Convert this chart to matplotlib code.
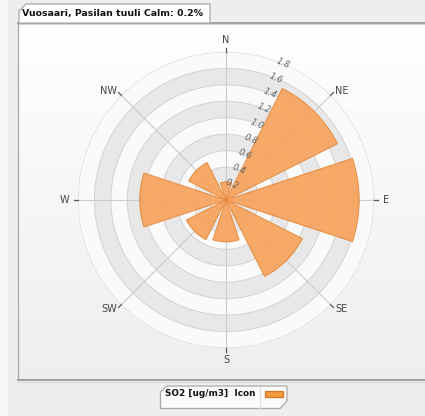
import numpy as np
import matplotlib
matplotlib.use("Agg")
import matplotlib.pyplot as plt
from matplotlib.patches import Polygon, Rectangle

# Wind rose data: mean SO2 concentration per wind direction sector
directions = ["N", "NE", "E", "SE", "S", "SW", "W", "NW"]
so2_values = [0.22, 1.52, 1.62, 1.04, 0.51, 0.54, 1.05, 0.51]
radial_ticks = [0.2, 0.4, 0.6, 0.8, 1.0, 1.2, 1.4, 1.6, 1.8]
radial_labels = ["0.2", "0.4", "0.6", "0.8", "1.0", "1.2", "1.4", "1.6", "1.8"]
title_text = "Vuosaari, Pasilan tuuli Calm: 0.2%"
legend_text = "SO2 [ug/m3]  Icon"

W, H = 425, 416
fig = plt.figure(figsize=(W / 100, H / 100), dpi=100)
fig.patch.set_facecolor("#eeeeee")

# ---- background decoration in pixel coordinates ----
bg = fig.add_axes([0, 0, 1, 1])
bg.set_xlim(0, W)
bg.set_ylim(H, 0)
bg.axis("off")

bg.add_patch(Rectangle((0, 0), 8, H, color="#f6f6f6", lw=0))

# panel with a soft vertical gradient
n = 200
top_c = np.array([1.0, 1.0, 1.0])
bot_c = np.array([0.935, 0.935, 0.935])
grad = np.linspace(0, 1, n)[:, None, None] * (bot_c - top_c) + top_c
grad = np.repeat(grad, 2, axis=1)
bg.imshow(grad, extent=(18.5, W + 5, 380, 22.5), aspect="auto", origin="upper",
          interpolation="bilinear", zorder=1)
bg.plot([18.5, W + 5], [22.5, 22.5], color="#9a9a9a", lw=1.3, zorder=3)
bg.plot([18.5, W + 5], [24.0, 24.0], color="#d4d4d4", lw=0.8, zorder=3)
bg.plot([18.5, 18.5], [22.5, 380], color="#a8a8a8", lw=0.9, zorder=3)
bg.plot([18.5, W + 5], [380, 380], color="#9a9a9a", lw=1.3, zorder=3)
bg.plot([18.5, W + 5], [381.5, 381.5], color="#d8d8d8", lw=0.8, zorder=3)

# title tab
tab = Polygon([(19, 22.5), (19, 11), (26, 4), (210, 4), (210, 22.5)],
              closed=False, facecolor="white", edgecolor="#a8a8a8", lw=0.9, zorder=4)
bg.add_patch(tab)
bg.text(22.5, 13.8, title_text, ha="left", va="center", fontsize=6.75,
        fontweight="bold", color="#111111", zorder=5)

# legend box
leg = Polygon([(160.5, 392), (167, 386), (287, 386), (287, 401), (280, 408.5), (160.5, 408.5)],
              closed=True, facecolor="#fbfbfb", edgecolor="#a8a8a8", lw=0.9, zorder=4)
bg.add_patch(leg)
bg.plot([260, 260], [386.5, 408], color="#dddddd", lw=0.8, zorder=5)
bg.add_patch(Rectangle((265.5, 390.5), 17.5, 6, facecolor="#f49a3e",
                       edgecolor="#d27a25", lw=0.9, zorder=5))
bg.text(165.5, 394, legend_text, ha="left", va="center", fontsize=6.4,
        fontweight="bold", color="#111111", zorder=5)

# ---- polar wind rose ----
cx, cy, R = 226, 200, 148
rect = [(cx - R) / W, (H - cy - R) / H, 2 * R / W, 2 * R / H]
ax = fig.add_axes(rect, projection="polar")
ax.set_theta_zero_location("N")
ax.set_theta_direction(-1)
rmax = radial_ticks[-1]
ax.set_ylim(0, rmax)
ax.set_facecolor("#fafafa")
ax.grid(False)
ax.set_xticks([])
ax.set_yticks([])
ax.spines["polar"].set_visible(False)

full = np.linspace(0, 2 * np.pi, 361)
# alternating plot bands
for lo in radial_ticks[0::2][:-1]:
    ax.bar(0, 0.2, width=2 * np.pi, bottom=lo, color="#e8e8e8", edgecolor="none",
           align="center", zorder=0)
for r in radial_ticks:
    ax.plot(full, np.full_like(full, r), color="#d6d6d6", lw=0.8, zorder=1)

angles = np.deg2rad(np.arange(len(directions)) * 360 / len(directions))
for a in angles:
    ax.plot([a, a], [0, rmax], color="#cccccc", lw=0.8, zorder=1)
    ax.plot([a, a], [rmax, rmax + 0.05], color="#555555", lw=0.9, zorder=3,
            clip_on=False)

sector = 2 * np.pi / len(directions)
ax.bar(angles, so2_values, width=sector * 0.81, color="#f7a35c", alpha=0.92,
       edgecolor="#e3873a", lw=0.7, zorder=2)

# direction labels
lab_fs = 7.0
for a, d in zip(angles, directions):
    deg = np.rad2deg(a)
    if deg == 0:
        ax.text(a, rmax + 0.09, d, ha="center", va="bottom", fontsize=lab_fs, color="#444444")
    elif deg == 180:
        ax.text(a, rmax + 0.09, d, ha="center", va="top", fontsize=lab_fs, color="#444444")
    elif deg == 90:
        ax.text(a, rmax + 0.11, d, ha="left", va="center", fontsize=lab_fs, color="#444444")
    elif deg == 270:
        ax.text(a, rmax + 0.11, d, ha="right", va="center", fontsize=lab_fs, color="#444444")
    else:
        ha = "left" if deg < 180 else "right"
        ax.text(a, rmax + 0.08, d, ha=ha, va="center", fontsize=lab_fs, color="#444444")

# radial value labels along the NNE line
lab_ang = np.deg2rad(22.5)
for r, t in zip(radial_ticks, radial_labels):
    ax.text(lab_ang, r, t, ha="center", va="center", fontsize=6.3, color="#666666",
            rotation=-22.5, rotation_mode="anchor", zorder=4, style="italic")

fig.savefig("out.png", dpi=100, facecolor=fig.get_facecolor())
